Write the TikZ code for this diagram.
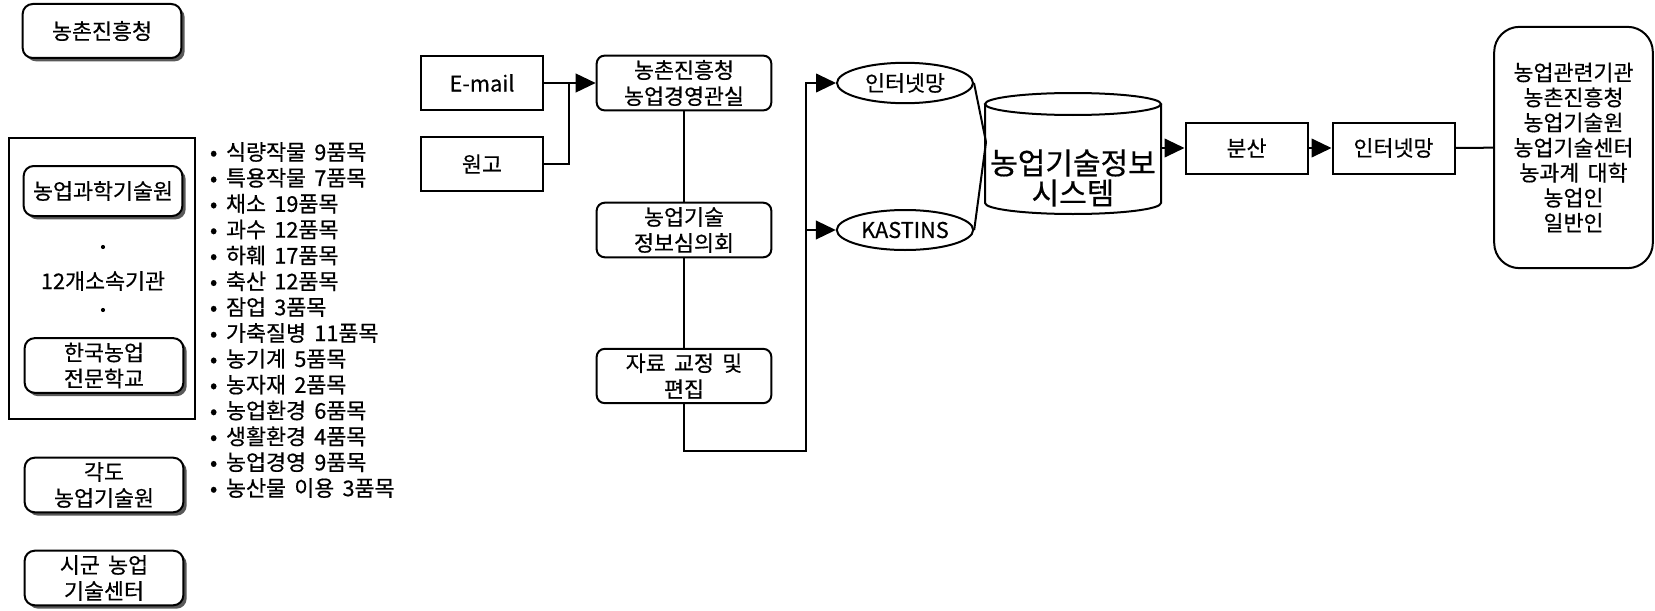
\documentclass[tikz,border=0pt]{standalone}
\usepackage{fontspec}
\setmainfont{Noto Sans CJK KR}[FakeBold=0.5,WordSpace=1.7]
\usetikzlibrary{arrows.meta,shapes.geometric,shadows}

\begin{document}
\begin{tikzpicture}[x=0.75pt,y=0.75pt,yscale=-1,xscale=1,
  every node/.style={font=\fontsize{16.3}{19.5}\selectfont, align=center},
  line width=1.5pt,
  arr/.style={-{Triangle[length=15pt,width=14pt]}},
  orgbox/.style={draw, rounded corners=7.5pt, fill=white, minimum width=119pt,
    drop shadow={shadow xshift=2.5pt,shadow yshift=-2.5pt,fill=black!65,opacity=1}},
  box/.style={draw, minimum width=91.5pt, minimum height=40.5pt},
  rbox/.style={draw, rounded corners=6pt, minimum width=131pt, minimum height=40.5pt},
  net/.style={draw, ellipse, minimum width=102pt, minimum height=30pt},
  item/.style={anchor=west, inner sep=0pt},
  dotmark/.style={circle, fill, inner sep=1.1pt}
]
\useasboundingbox (0,0) rectangle (1655,610);

% left column
\node[orgbox, minimum height=40.5pt] (rda) at (102,31) {농촌진흥청};

\draw [line width=1.2pt] (9,138) rectangle (195,419);
\node[orgbox, minimum height=37.5pt] (ast) at (103,191) {농업과학기술원};
\node[dotmark] (dot1) at (103,247) {};
\node (sub) at (103,281) {12개소속기관};
\node[dotmark] (dot2) at (103,310) {};
\node[orgbox, minimum height=41pt] (kcoll) at (104,365.5) {한국농업\\전문학교};

\node[orgbox, minimum height=40.5pt] (prov) at (104,485) {각도\\농업기술원};
\node[orgbox, minimum height=39pt] (city) at (104,578) {시군 농업\\기술센터};

% crop list
\foreach \itm [count=\i from 0] in {식량작물 9품목, 특용작물 7품목, 채소 19품목, 과수 12품목,
  하훼 17품목, 축산 12품목, 잠업 3품목, 가축질병 11품목, 농기계 5품목, 농자재 2품목,
  농업환경 6품목, 생활환경 4품목, 농업경영 9품목, 농산물 이용 3품목}
  \node[item] (it\i) at (209,152+25.85*\i) {•\hspace{6.5pt}\itm};

% input and review
\node[box] (email) at (482,83) {E-mail};
\node[box] (gogo) at (482,164) {원고};
\coordinate (jn) at (569,83);
\node[rbox] (mgmt) at (684,83) {농촌진흥청\\농업경영관실};
\node[rbox] (council) at (684,230) {농업기술\\정보심의회};
\node[rbox] (edit) at (684,376) {자료 교정 및\\편집};
\coordinate (bb) at (806,451);

\draw[arr] (email) -- (mgmt);
\draw (gogo.east) -| (jn);
\draw (mgmt) -- (council);
\draw (council) -- (edit);

% networks and system
\node[net] (net1) at (905,83) {인터넷망};
\node[net] (kast) at (905,230) {KASTINS};
\coordinate (meet) at (986,142);

\draw (1073,104) ellipse [x radius=88, y radius=11];
\draw (985,104) -- (985,203) arc [start angle=180, end angle=0, x radius=88, y radius=11] -- (1161,104);
\node[font=\fontsize{22.5}{22.5}\selectfont, minimum width=132pt] (sys) at (1073,178) {농업기술정보\\시스템};

\draw[arr] (edit.south) |- (bb) |- (net1.west);
\draw[arr] (bb |- kast.west) -- (kast.west);
\draw (net1.east) -- (meet) -- (kast.east);

% distribution
\node[box, minimum height=38.25pt] (dist) at (1246.5,148) {분산};
\node[box, minimum height=38.25pt] (net2) at (1393.5,148) {인터넷망};
\node[draw, rounded corners=19pt, minimum width=119pt, minimum height=181pt,
  font=\fontsize{16.3}{18.8}\selectfont] (users) at (1573.5,147.5)
  {농업관련기관\\농촌진흥청\\농업기술원\\농업기술센터\\농과계 대학\\농업인\\일반인};

\draw[arr] (sys.east |- dist.west) -- (dist.west);
\draw[arr] (dist) -- (net2);
\draw (net2) -- (users);

\end{tikzpicture}
\end{document}
